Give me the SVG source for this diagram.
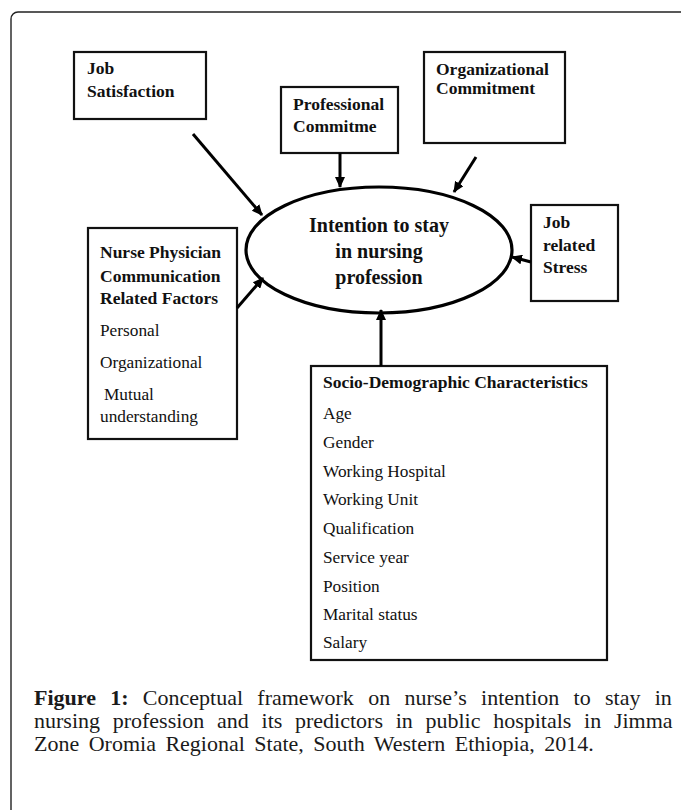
<svg xmlns="http://www.w3.org/2000/svg" width="681" height="810" viewBox="0 0 681 810">
<style>
.box{fill:#fff;stroke:#111;stroke-width:2.2}
.b{font-family:"Liberation Serif","Times New Roman",serif;font-weight:bold;font-size:17.5px;fill:#111}
.r{font-family:"Liberation Serif","Times New Roman",serif;font-size:17.3px;fill:#111}
.e{font-family:"Liberation Serif","Times New Roman",serif;font-weight:bold;font-size:20px;fill:#111}
.cap{font-family:"Liberation Serif","Times New Roman",serif;font-size:22px;fill:#1a1a1a}
.conn line{stroke:#000;stroke-width:3;marker-end:url(#ah)}
</style>
<defs>
<marker id="ah" markerUnits="userSpaceOnUse" markerWidth="11" markerHeight="10" refX="10" refY="5" orient="auto">
<path d="M0,0 L11,5 L0,10 z" fill="#000"/>
</marker>
</defs>
<rect width="681" height="810" fill="#fff"/>
<rect x="11" y="12" width="700" height="830" rx="7" fill="none" stroke="#222" stroke-width="1.4"/>

<g id="job-satisfaction">
<rect class="box" x="74" y="52" width="132" height="67"/>
<text class="b" x="87" y="74">Job</text>
<text class="b" x="87" y="97">Satisfaction</text>
</g>

<g id="professional-commitment">
<rect class="box" x="281" y="87" width="117" height="66"/>
<text class="b" x="293" y="110">Professional</text>
<text class="b" x="293" y="132">Commitme</text>
</g>

<g id="organizational-commitment">
<rect class="box" x="424" y="52" width="141" height="91"/>
<text class="b" x="436" y="75">Organizational</text>
<text class="b" x="436" y="94">Commitment</text>
</g>

<g id="job-related-stress">
<rect class="box" x="531" y="205" width="87" height="96"/>
<text class="b" x="543" y="228">Job</text>
<text class="b" x="543" y="251">related</text>
<text class="b" x="543" y="273">Stress</text>
</g>

<g id="intention">
<ellipse cx="379" cy="250" rx="133" ry="63" fill="#fff" stroke="#000" stroke-width="3.2"/>
<text class="e" x="379" y="232" text-anchor="middle">Intention to stay</text>
<text class="e" x="379" y="258" text-anchor="middle">in nursing</text>
<text class="e" x="379" y="284" text-anchor="middle">profession</text>
</g>

<g id="nurse-physician">
<rect class="box" x="88" y="228" width="149" height="211"/>
<text class="b" x="100" y="258">Nurse Physician</text>
<text class="b" x="100" y="282">Communication</text>
<text class="b" x="100" y="304">Related Factors</text>
<text class="r" x="100" y="336">Personal</text>
<text class="r" x="100" y="368">Organizational</text>
<text class="r" x="104" y="400">Mutual</text>
<text class="r" x="100" y="422">understanding</text>
</g>

<g id="socio-demographic">
<rect class="box" x="311" y="366" width="296" height="294"/>
<text class="b" x="323" y="388">Socio-Demographic Characteristics</text>
<text class="r" x="323" y="419">Age</text>
<text class="r" x="323" y="448">Gender</text>
<text class="r" x="323" y="477">Working Hospital</text>
<text class="r" x="323" y="505">Working Unit</text>
<text class="r" x="323" y="534">Qualification</text>
<text class="r" x="323" y="563">Service year</text>
<text class="r" x="323" y="592">Position</text>
<text class="r" x="323" y="620">Marital status</text>
<text class="r" x="323" y="648">Salary</text>
</g>

<g id="connectors" class="conn">
<line x1="193" y1="134" x2="262" y2="215"/>
<line x1="340" y1="153" x2="340" y2="187"/>
<line x1="476" y1="157" x2="454" y2="192"/>
<line x1="531" y1="262" x2="512" y2="257"/>
<line x1="237" y1="308" x2="263" y2="278"/>
<line x1="381" y1="366" x2="381" y2="310"/>
</g>

<g id="caption">
<text class="cap" x="34" y="705" word-spacing="8.8"><tspan font-weight="bold">Figure 1:</tspan> Conceptual framework on nurse’s intention to stay in</text>
<text class="cap" x="34" y="728" word-spacing="7.2">nursing profession and its predictors in public hospitals in Jimma</text>
<text class="cap" x="34" y="751" word-spacing="4">Zone Oromia Regional State, South Western Ethiopia, 2014.</text>
</g>
</svg>
